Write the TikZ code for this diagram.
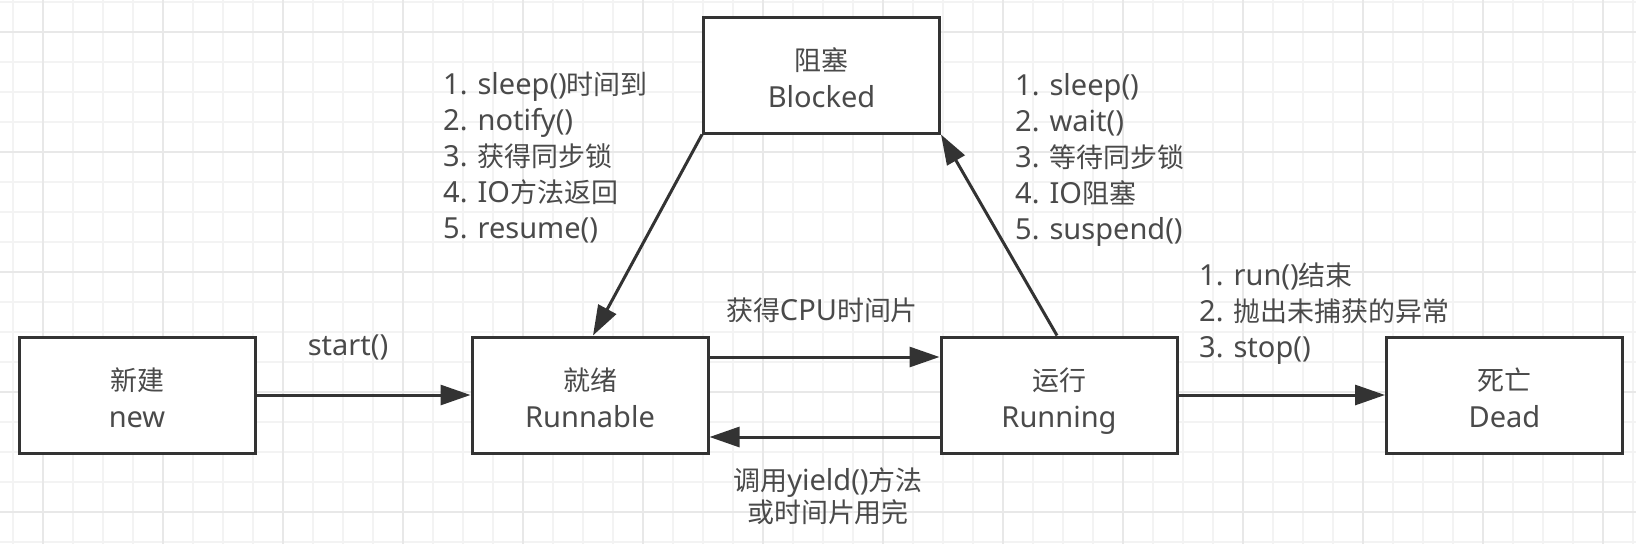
\documentclass[tikz,border=0pt]{standalone}
\usepackage{fontspec}
\setmainfont{Noto Sans}
\newfontfamily\cjk[Scale=0.93]{Noto Sans CJK SC}
\usetikzlibrary{arrows.meta}
\definecolor{txt}{HTML}{4A4A4A}
\definecolor{edge}{HTML}{333333}
\definecolor{gridminor}{HTML}{F3F3F3}
\definecolor{gridmajor}{HTML}{E8E8E8}
\begin{document}
\begin{tikzpicture}[x=1pt,y=-1pt,
  state/.style={draw=edge, line width=3pt, fill=white, minimum width=236pt, minimum height=116pt,
    align=center, text=txt, font=\fontsize{29}{37}\selectfont, inner sep=0pt,
    text height=69pt, text depth=5pt},
  conn/.style={draw=edge, line width=3pt, -{Triangle[length=30pt,width=20pt]}},
  lbl/.style={text=txt, font=\fontsize{29}{36}\selectfont, inner sep=0pt, align=left},
  clbl/.style={text=txt, font=\fontsize{29}{32}\selectfont, inner sep=0pt, align=center}]
\useasboundingbox (0,0) rectangle (1636,544);
\fill[white] (0,0) rectangle (1636,544);
% grid
\foreach \x in {13,43,...,1636} {\draw[gridminor, line width=1.5pt] (\x,0) -- (\x,544);}
\foreach \y in {2,32,...,544} {\draw[gridminor, line width=1.5pt] (0,\y) -- (1636,\y);}
\foreach \x in {43,163,...,1636} {\draw[gridmajor, line width=1.5pt] (\x,0) -- (\x,544);}
\foreach \y in {32,152,...,544} {\draw[gridmajor, line width=1.5pt] (0,\y) -- (1636,\y);}
% states
\node[state] (new) at (137,395) {{\cjk 新建}\\new};
\node[state] (ready) at (590,395) {{\cjk 就绪}\\Runnable};
\node[state] (running) at (1059,395) {{\cjk 运行}\\Running};
\node[state] (dead) at (1504.5,395) {{\cjk 死亡}\\Dead};
\node[state] (blocked) at (821.5,75) {{\cjk 阻塞}\\Blocked};
% connectors
\draw[conn] (new.east) -- (ready.west);
\draw[conn] ([yshift=38pt]ready.east) -- ([yshift=38pt]running.west);
\draw[conn] ([yshift=-42pt]running.west) -- ([yshift=-42pt]ready.east);
\draw[conn] (running.east) -- (dead.west);
\draw[conn] (blocked.south west) -- ([xshift=3pt]ready.north);
\draw[conn] ([xshift=-2pt]running.north) -- (blocked.south east);
% labels
\node[lbl, anchor=base] (lstart) at (348,355) {start()};
\node[lbl, anchor=base] (lcpu) at (822,320) {{\cjk 获得}CPU{\cjk 时间片}};
\node[clbl, anchor=base] (lyield) at (828,522) {{\cjk 调用}yield(){\cjk 方法}\\{\cjk 或时间片用完}};
\node[lbl, anchor=base west] (lwake) at (443,238) {1. sleep(){\cjk 时间到}\\2. notify()\\3. {\cjk 获得同步锁}\\4. IO{\cjk 方法返回}\\5. resume()};
\node[lbl, anchor=base west] (lblock) at (1015,239) {1. sleep()\\2. wait()\\3. {\cjk 等待同步锁}\\4. IO{\cjk 阻塞}\\5. suspend()};
\node[lbl, anchor=base west] (ldead) at (1199,357) {1. run(){\cjk 结束}\\2. {\cjk 抛出未捕获的异常}\\3. stop()};
\end{tikzpicture}
\end{document}
